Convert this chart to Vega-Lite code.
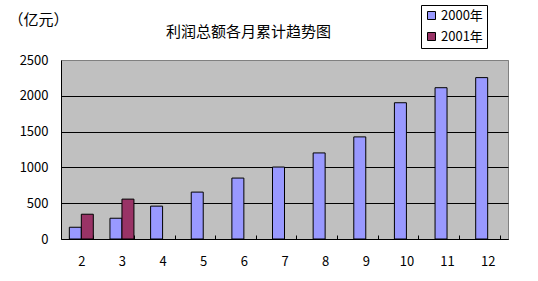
{
  "$schema": "https://vega.github.io/schema/vega-lite/v6.json",
  "width": 447,
  "height": 179,
  "autosize": {"type": "none"},
  "padding": {"left": 61, "top": 60, "right": 30, "bottom": 42},
  "background": "white",
  "title": {
    "text": "利润总额各月累计趋势图",
    "font": "Noto Sans CJK SC",
    "fontSize": 15,
    "fontWeight": "normal",
    "color": "black",
    "anchor": "middle",
    "dx": -36,
    "offset": -35
  },
  "config": {
    "font": "Noto Sans CJK SC",
    "view": {"fill": "#C0C0C0", "stroke": "#808080", "strokeWidth": 1}
  },
  "data": {
    "values": [
      {"month": 2, "year": "2000年", "value": 164},
      {"month": 2, "year": "2001年", "value": 346},
      {"month": 3, "year": "2000年", "value": 290},
      {"month": 3, "year": "2001年", "value": 557},
      {"month": 4, "year": "2000年", "value": 459},
      {"month": 5, "year": "2000年", "value": 655},
      {"month": 6, "year": "2000年", "value": 851},
      {"month": 7, "year": "2000年", "value": 1005},
      {"month": 8, "year": "2000年", "value": 1202},
      {"month": 9, "year": "2000年", "value": 1426},
      {"month": 10, "year": "2000年", "value": 1903},
      {"month": 11, "year": "2000年", "value": 2113},
      {"month": 12, "year": "2000年", "value": 2254}
    ]
  },
  "mark": {"type": "bar", "stroke": "black", "strokeWidth": 1},
  "encoding": {
    "x": {
      "field": "month",
      "type": "ordinal",
      "scale": {"paddingInner": 0.41, "paddingOuter": 0.205},
      "axis": {
        "title": null,
        "labelAngle": 0,
        "labelFont": "Noto Sans CJK SC",
        "labelFontSize": 13,
        "labelColor": "black",
        "domainColor": "black",
        "domainWidth": 1,
        "tickColor": "black",
        "tickSize": -4,
        "tickBand": "extent",
        "labelPadding": 20,
        "grid": false
      }
    },
    "xOffset": {
      "field": "year",
      "type": "nominal",
      "scale": {"domain": ["2000年", "2001年"], "paddingInner": 0, "paddingOuter": 0}
    },
    "y": {
      "field": "value",
      "type": "quantitative",
      "scale": {"domain": [0, 2500], "nice": false},
      "axis": {
        "values": [0, 500, 1000, 1500, 2000, 2500],
        "format": "d",
        "title": "（亿元）",
        "titleAngle": 0,
        "titleAlign": "left",
        "titleBaseline": "middle",
        "titleX": -53,
        "titleY": -41,
        "titleFont": "Noto Sans CJK SC",
        "titleFontSize": 15,
        "titleFontWeight": "normal",
        "titleColor": "black",
        "labelFont": "Noto Sans CJK SC",
        "labelFontSize": 13,
        "labelColor": "black",
        "ticks": false,
        "labelPadding": 13,
        "domainColor": "black",
        "domainWidth": 1,
        "grid": true,
        "gridColor": {"condition": {"test": "datum.value === 2500", "value": "#808080"}, "value": "black"},
        "gridOpacity": 1,
        "gridWidth": 1
      }
    },
    "color": {
      "field": "year",
      "type": "nominal",
      "scale": {"domain": ["2000年", "2001年"], "range": ["#9999FF", "#993366"]},
      "legend": {
        "title": null,
        "orient": "none",
        "legendX": 360,
        "legendY": -55,
        "direction": "vertical",
        "symbolType": "square",
        "symbolSize": 64,
        "symbolStrokeColor": "black",
        "symbolStrokeWidth": 1,
        "labelFont": "Noto Sans CJK SC",
        "labelFontSize": 13,
        "labelColor": "black",
        "labelOffset": 3,
        "rowPadding": 7,
        "padding": 4,
        "strokeColor": "black",
        "fillColor": "white"
      }
    }
  }
}
